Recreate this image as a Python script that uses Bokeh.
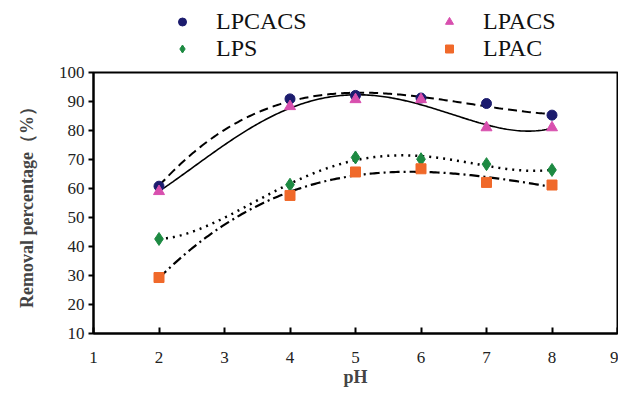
import numpy as np
from bokeh.plotting import figure
from bokeh.layouts import column
from bokeh.models import Legend, LegendItem, FixedTicker, Range1d
from bokeh.embed import file_html
from bokeh.resources import INLINE

ph = [2, 4, 5, 6, 7, 8]
lpcacs = [60.8, 90.9, 92.1, 91.2, 89.3, 85.3]
lpacs = [59.0, 88.3, 90.7, 90.7, 81.0, 81.0]
lps = [42.6, 61.3, 70.7, 70.1, 68.4, 66.4]
lpac = [29.3, 57.6, 65.7, 66.8, 62.1, 61.2]
names = ["LPCACS", "LPACS", "LPS", "LPAC"]
x_ticks = [1, 2, 3, 4, 5, 6, 7, 8, 9]
y_ticks = [10, 20, 30, 40, 50, 60, 70, 80, 90, 100]

serif = "Liberation Serif"
styles = [dict(marker="circle", size=10, color="#1c1c6e"),
          dict(marker="triangle", size=11, color="#d84fae"),
          dict(marker="diamond", size=13, color="#1d8a42"),
          dict(marker="square", size=10, color="#f0692a")]
leg_styles = [dict(marker="circle", size=8, color="#1c1c6e"),
              dict(marker="triangle", size=9, color="#d84fae"),
              dict(marker="diamond", size=10, color="#1d8a42"),
              dict(marker="square", size=8, color="#f0692a")]

# legend strip
lf = figure(width=618, height=62, output_backend="svg", toolbar_location=None,
            x_range=Range1d(0, 1), y_range=Range1d(0, 1), min_border=0,
            x_axis_location=None, y_axis_location=None)
lf.grid.visible = False
lf.outline_line_color = None
items = []
for nm, st in zip(names, leg_styles):
    r = lf.scatter(x=[-5], y=[-5], marker=st["marker"], size=st["size"],
                   fill_color=st["color"], line_color=st["color"])
    items.append(LegendItem(label=nm, renderers=[r]))
legend = Legend(items=items, ncols=2, location=(79, 0), orientation="horizontal")
legend.label_text_font = serif
legend.label_text_font_size = "24px"
legend.label_text_color = "#111111"
legend.glyph_width = 20
legend.glyph_height = 27
legend.label_height = 27
legend.label_width = 223
legend.label_standoff = 24
legend.spacing = 0
legend.padding = 0
legend.margin = 0
legend.border_line_color = None
legend.background_fill_alpha = 0
lf.add_layout(legend, "center")

p = figure(width=618, height=327, output_backend="svg", toolbar_location=None,
           x_range=Range1d(1, 9), y_range=Range1d(10, 100),
           min_border_left=93, min_border_right=1, min_border_top=10, min_border_bottom=55)
p.xgrid.visible = False
p.ygrid.visible = False
p.outline_line_color = "black"
p.outline_line_width = 2
p.background_fill_color = "white"

for ax in (p.xaxis[0], p.yaxis[0]):
    ax.axis_line_width = 2
    ax.major_tick_line_width = 2
    ax.minor_tick_line_color = None
    ax.major_label_text_font = serif
    ax.major_label_text_font_size = "17px"
    ax.major_label_text_color = "#222222"
    ax.axis_label_text_font = serif
    ax.axis_label_text_font_style = "bold"
    ax.axis_label_text_font_size = "18px"

p.xaxis.ticker = FixedTicker(ticks=x_ticks)
p.yaxis.ticker = FixedTicker(ticks=y_ticks)
p.xaxis.major_tick_in = 6
p.xaxis.major_tick_out = 0
p.xaxis.major_label_standoff = 18
p.xaxis.axis_label = "pH"
p.xaxis.axis_label_standoff = 1
p.yaxis.major_tick_in = 0
p.yaxis.major_tick_out = 5
p.yaxis.major_label_standoff = 4
p.yaxis.axis_label = "Removal percentage（%）"
p.yaxis.axis_label_standoff = 19

xs = np.linspace(2, 8, 200)
def trend(vals, deg):
    c = np.polyfit(ph, vals, deg)
    return np.polyval(c, xs)

p.line(xs, trend(lpcacs, 3), line_color="black", line_width=2, line_dash="9 5")
p.line(xs, trend(lpacs, 4), line_color="black", line_width=1.6)
p.line(xs, trend(lps, 4), line_color="black", line_width=2.5, line_dash="2 5")
p.line(xs, trend(lpac, 3), line_color="black", line_width=2.2, line_dash="10 4 2 4")

for vals, st in zip([lpcacs, lpacs, lps, lpac], styles):
    p.scatter(ph, vals, marker=st["marker"], size=st["size"],
              fill_color=st["color"], line_color=st["color"])

open("out.html", "w").write(file_html(column(lf, p), INLINE))
